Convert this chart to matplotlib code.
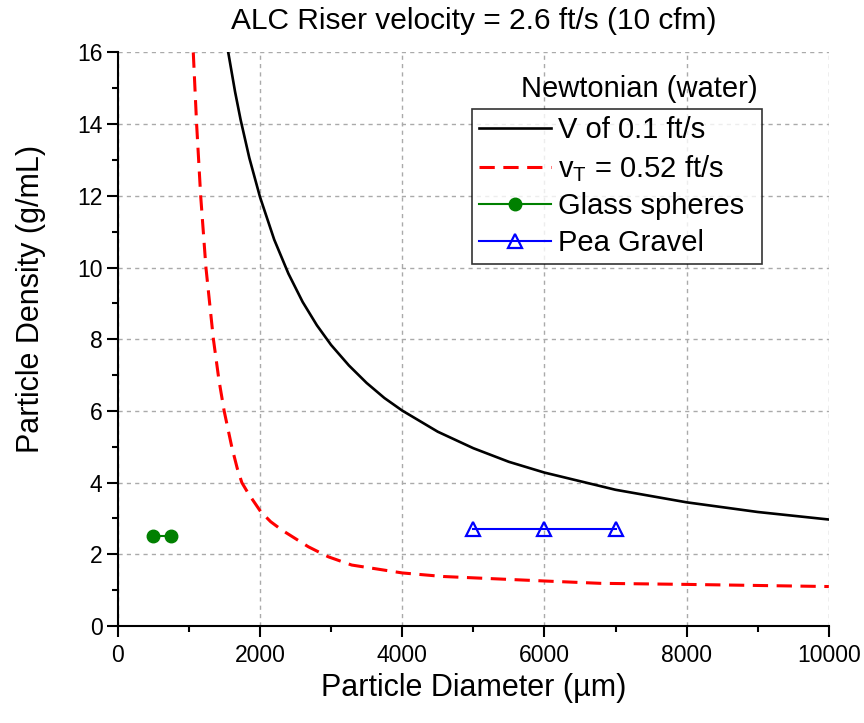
import numpy as np
import matplotlib
matplotlib.use("Agg")
import matplotlib.pyplot as plt
from matplotlib.ticker import MultipleLocator

plt.rcParams["font.family"] = ["Liberation Sans", "DejaVu Sans"]
plt.rcParams["mathtext.default"] = "regular"

# ── Data ─────────────────────────────────────────────────────────────
# V of 0.1 ft/s (black, solid)
v01_diam = [1554, 1650, 1728, 1850, 2000, 2200, 2400, 2600, 2800, 3000,
            3250, 3500, 3750, 4000, 4500, 5000, 5500, 6000, 7000, 8000,
            9000, 10000]
v01_dens = [16.0, 14.9, 14.12, 13.06, 11.97, 10.78, 9.83, 9.04, 8.39, 7.84,
            7.27, 6.78, 6.36, 6.01, 5.42, 4.96, 4.58, 4.28, 3.80, 3.45,
            3.18, 2.97]

# v_T = 0.52 ft/s (red, dashed)
vt_diam = [1062, 1109, 1166, 1240, 1345, 1423, 1496, 1603, 1680, 1745,
           1790, 1835, 2010, 2150, 2305, 2680, 2961, 3290, 4000, 4578,
           6000, 6782, 8000, 10000]
vt_dens = [16.0, 14.0, 12.0, 10.0, 8.0, 6.86, 6.0, 5.0, 4.4, 4.0,
           3.85, 3.70, 3.19, 2.91, 2.68, 2.21, 1.93, 1.70, 1.48, 1.38,
           1.255, 1.19, 1.16, 1.10]

glass_diam = [500, 750]
glass_dens = [2.5, 2.5]

gravel_diam = [5000, 6000, 7000]
gravel_dens = [2.7, 2.7, 2.7]

# ── Figure ───────────────────────────────────────────────────────────
fig = plt.figure(figsize=(8.64, 7.23), dpi=100)
ax = fig.add_axes([0.1363, 0.1342, 0.8230, 0.7932])

ax.plot(v01_diam, v01_dens, color="black", lw=1.9, label="V of 0.1 ft/s", zorder=4)
ax.plot(vt_diam, vt_dens, color="#ff0000", lw=2.2, ls=(0, (5, 2.8)),
        label=r"v$_{T}$ = 0.52 ft/s", zorder=4)
ax.plot(glass_diam, glass_dens, color="#008000", lw=1.5, marker="o",
        ms=9, label="Glass spheres", zorder=5)
ax.plot(gravel_diam, gravel_dens, color="#0000ff", lw=1.5, marker="^",
        ms=10.5, mfc="none", mew=1.6, label="Pea Gravel", zorder=5)

ax.set_xlim(0, 10000)
ax.set_ylim(0, 16)
ax.xaxis.set_major_locator(MultipleLocator(2000))
ax.xaxis.set_minor_locator(MultipleLocator(1000))
ax.yaxis.set_major_locator(MultipleLocator(2))
ax.yaxis.set_minor_locator(MultipleLocator(1))

for side in ("top", "right"):
    ax.spines[side].set_visible(False)
for side in ("left", "bottom"):
    ax.spines[side].set_linewidth(1.5)

ax.tick_params(which="major", direction="out", length=8, width=1.5,
               labelsize=16.5)
ax.tick_params(axis="y", which="major", pad=3)
ax.tick_params(axis="x", which="major", pad=5)
ax.tick_params(which="minor", direction="out", length=4.5, width=1.5)

ax.grid(True, which="major", color="#aaaaaa", lw=1.0, ls=(0, (3, 3)))
ax.set_axisbelow(True)

ax.set_xlabel("Particle Diameter (\u00b5m)", fontsize=22, labelpad=4)
ax.set_ylabel("Particle Density (g/mL)", fontsize=22)
ax.yaxis.set_label_coords(-0.101, 0.57)
ax.set_title("ALC Riser velocity = 2.6 ft/s (10 cfm)", fontsize=21.5, pad=17)

# legend box stretched to the reference frame width
leg = ax.legend(loc="upper left", bbox_to_anchor=(0.498, 0.632, 0.408, 0.27),
                mode="expand", borderaxespad=0, fontsize=21, frameon=True,
                fancybox=False, handlelength=2.45, handletextpad=0.25,
                labelspacing=0.3, borderpad=0.25)
leg.get_frame().set_edgecolor("black")
leg.get_frame().set_linewidth(1.2)
ax.text(0.900, 0.937, "Newtonian (water)", transform=ax.transAxes,
        ha="right", va="center", fontsize=21)

fig.savefig("out.png", dpi=100)
